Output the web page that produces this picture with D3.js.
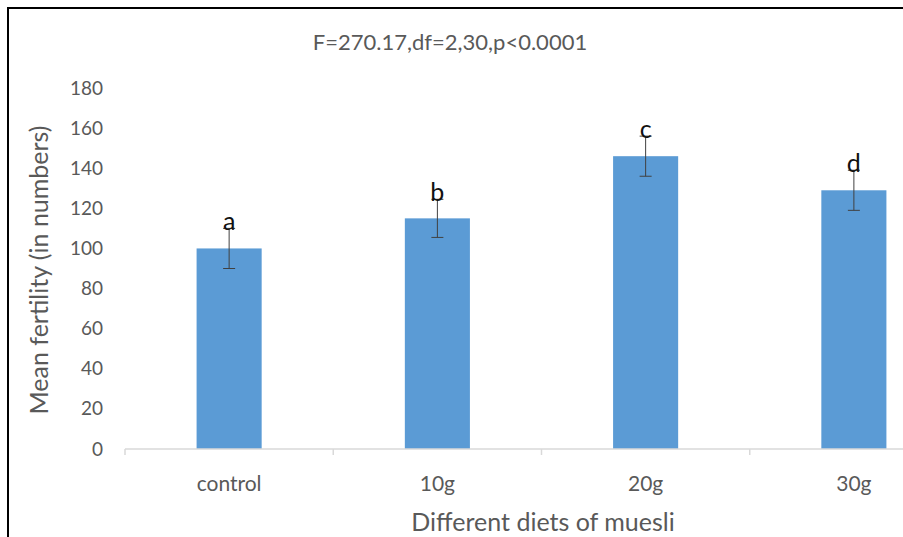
<!DOCTYPE html>
<html>
<head>
<meta charset="utf-8">
<script src="https://cdn.jsdelivr.net/npm/d3@7"></script>
<style>
  body { margin: 0; background: #fff; overflow: hidden; }
  text { font-family: Lato, "Open Sans", sans-serif; }
</style>
</head>
<body>
<div id="chart"></div>
<script>
// data
var diets = ["control", "10g", "20g", "30g"];
var means = [100, 115, 146, 129];
var errors = [10, 9.5, 10, 10];
var letters = ["a", "b", "c", "d"];
var yTicks = [0, 20, 40, 60, 80, 100, 120, 140, 160, 180];

var W = 903, H = 537;

var svg = d3.select("#chart")
    .append("svg")
    .attr("width", W)
    .attr("height", H)
    .style("display", "block");

svg.append("rect")
    .attr("width", W)
    .attr("height", H)
    .attr("fill", "#fff");

// frame (only top + left edges show in the picture)
svg.append("path")
    .attr("d", "M8," + H + "V8H" + W)
    .attr("fill", "none")
    .attr("stroke", "#000")
    .attr("stroke-width", 2);

// scales - plot runs past the right edge, as in the original
var x = d3.scaleBand()
    .domain(diets)
    .range([125, 958])
    .paddingInner(0.6875)
    .paddingOuter(0.34375);

var y = d3.scaleLinear()
    .domain([0, 180])
    .range([449, 88]);

// title
svg.append("text")
    .attr("x", 450)
    .attr("y", 50)
    .attr("text-anchor", "middle")
    .attr("fill", "#595959")
    .style("font-size", "22px")
    .text("F=270.17,df=2,30,p<0.0001");

// y axis labels (no line, no ticks)
var yAxis = svg.append("g")
    .attr("transform", "translate(103,0)")
    .call(d3.axisLeft(y).tickValues(yTicks).tickSize(0).tickPadding(0));
yAxis.select(".domain").remove();
yAxis.selectAll("text")
    .attr("fill", "#595959")
    .style("font-size", "19px")
    .style("font-family", "Lato, sans-serif");

// bars
svg.selectAll(".bar")
    .data(diets)
  .enter().append("rect")
    .attr("class", "bar")
    .attr("x", function(d) { return x(d); })
    .attr("width", x.bandwidth())
    .attr("y", function(d, i) { return y(means[i]); })
    .attr("height", function(d, i) { return y(0) - y(means[i]); })
    .attr("fill", "#5b9bd5");

// x axis line + ticks between categories
svg.append("line")
    .attr("x1", 125).attr("x2", W)
    .attr("y1", y(0)).attr("y2", y(0))
    .attr("stroke", "#d9d9d9")
    .attr("stroke-width", 1.5);

var bounds = diets.map(function(d) { return x(d) - x.step() * x.paddingOuter(); });
svg.selectAll(".xtick")
    .data(bounds)
  .enter().append("line")
    .attr("x1", function(d) { return d; })
    .attr("x2", function(d) { return d; })
    .attr("y1", y(0))
    .attr("y2", y(0) + 6)
    .attr("stroke", "#d9d9d9")
    .attr("stroke-width", 1.5);

svg.selectAll(".xlab")
    .data(diets)
  .enter().append("text")
    .attr("x", function(d) { return x(d) + x.bandwidth() / 2; })
    .attr("y", 491)
    .attr("text-anchor", "middle")
    .attr("fill", "#595959")
    .style("font-size", "21px")
    .text(function(d) { return d; });

// error bars
var eb = svg.selectAll(".err")
    .data(diets)
  .enter().append("g")
    .attr("stroke", "#404040")
    .attr("stroke-width", 1);

eb.append("line")
    .attr("x1", function(d) { return x(d) + x.bandwidth() / 2; })
    .attr("x2", function(d) { return x(d) + x.bandwidth() / 2; })
    .attr("y1", function(d, i) { return y(means[i] - errors[i]); })
    .attr("y2", function(d, i) { return y(means[i] + errors[i]); });

[-1, 1].forEach(function(s) {
  eb.append("line")
    .attr("x1", function(d) { return x(d) + x.bandwidth() / 2 - 6; })
    .attr("x2", function(d) { return x(d) + x.bandwidth() / 2 + 6; })
    .attr("y1", function(d, i) { return y(means[i] + s * errors[i]); })
    .attr("y2", function(d, i) { return y(means[i] + s * errors[i]); });
});

// significance letters
svg.selectAll(".sig")
    .data(diets)
  .enter().append("text")
    .attr("x", function(d) { return x(d) + x.bandwidth() / 2; })
    .attr("y", function(d, i) { return y(means[i] + errors[i]) + 2; })
    .attr("text-anchor", "middle")
    .attr("fill", "#111")
    .style("font-size", "25px")
    .text(function(d, i) { return letters[i]; });

// axis titles
svg.append("text")
    .attr("x", 543)
    .attr("y", 531)
    .attr("text-anchor", "middle")
    .attr("fill", "#595959")
    .style("font-size", "25px")
    .text("Different diets of muesli");

svg.append("text")
    .attr("transform", "translate(48,270) rotate(-90)")
    .attr("text-anchor", "middle")
    .attr("fill", "#595959")
    .style("font-size", "25px")
    .text("Mean fertility (in numbers)");
</script>
</body>
</html>
